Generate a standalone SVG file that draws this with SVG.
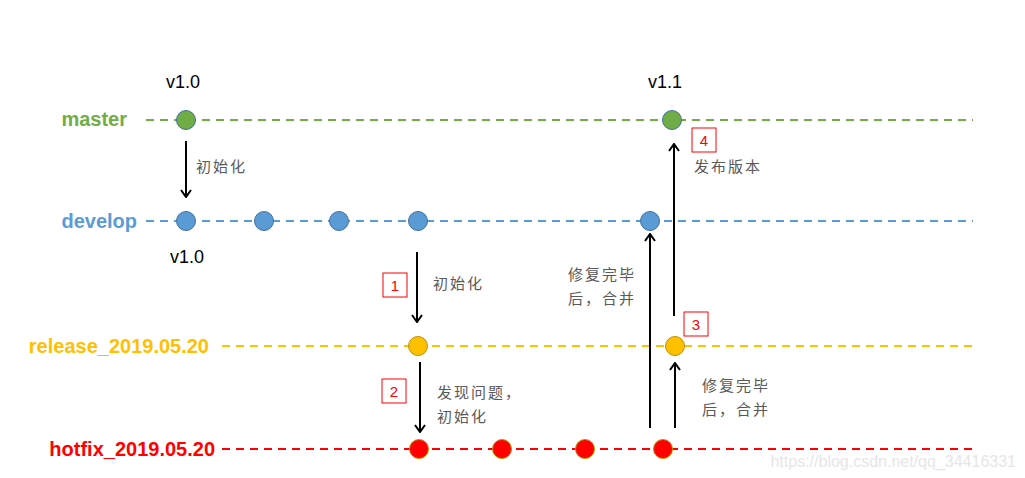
<svg xmlns="http://www.w3.org/2000/svg" width="1025" height="478" viewBox="0 0 1025 478">
<defs>
<marker id="ah" viewBox="0 0 12 12" refX="11" refY="6" markerWidth="12" markerHeight="12" markerUnits="userSpaceOnUse" orient="auto">
<path d="M4,1 L11,6 L4,11" fill="none" stroke="#000" stroke-width="2"/>
</marker>
</defs>
<style>
.lbl{font-family:"Liberation Sans",Arial,sans-serif;font-weight:bold;font-size:20px;text-anchor:end}
.ver{font-family:"Liberation Sans",Arial,sans-serif;font-size:18px;fill:#000}
.cn{font-family:"Noto Sans CJK SC","Noto Sans",sans-serif;font-size:15px;fill:#595959;letter-spacing:2px}
.ln{fill:none;stroke-width:2;stroke-dasharray:8,6}
.arr{stroke:#000;stroke-width:2;fill:none}
.box rect{fill:#fff;stroke:#f00;stroke-width:1}
.box text{font-family:"Liberation Sans",Arial,sans-serif;font-size:15px;fill:#f00;text-anchor:middle}
.g{fill:#70AD47;stroke:#41719C;stroke-width:1}
.b{fill:#5B9BD5;stroke:#41719C;stroke-width:1}
.y{fill:#FFC000;stroke:#BF9000;stroke-width:1}
.r{fill:#FF0000;stroke:#BF9000;stroke-width:1}
</style>
<rect width="1025" height="478" fill="#fff"/>
<g id="branches">
<line class="ln" x1="146" y1="120" x2="973" y2="120" stroke="#70AD47"/>
<line class="ln" x1="146" y1="221" x2="973" y2="221" stroke="#5B9BD5"/>
<line class="ln" x1="222" y1="346" x2="973" y2="346" stroke="#FFC000"/>
<line class="ln" x1="222" y1="449" x2="973" y2="449" stroke="#FF0000"/>
<text class="lbl" x="127" y="126" fill="#70AD47">master</text>
<text class="lbl" x="137" y="228" fill="#5B9BD5">develop</text>
<text class="lbl" x="209" y="353" fill="#FFC000">release_2019.05.20</text>
<text class="lbl" x="215" y="456" fill="#FF0000">hotfix_2019.05.20</text>
</g>
<g id="connectors">
<line class="arr" x1="186" y1="141" x2="186" y2="197" marker-end="url(#ah)"/>
<line class="arr" x1="417" y1="252" x2="417" y2="322" marker-end="url(#ah)"/>
<line class="arr" x1="420" y1="362" x2="420" y2="432" marker-end="url(#ah)"/>
<line class="arr" x1="650" y1="428" x2="650" y2="234" marker-end="url(#ah)"/>
<line class="arr" x1="675" y1="428" x2="675" y2="363" marker-end="url(#ah)"/>
<line class="arr" x1="674" y1="316" x2="674" y2="144" marker-end="url(#ah)"/>
</g>
<g id="nodes-master">
<circle class="g" cx="186" cy="120" r="9.5"/>
<circle class="g" cx="672" cy="120" r="9.5"/>
</g>
<g id="nodes-develop">
<circle class="b" cx="186" cy="221" r="9.5"/>
<circle class="b" cx="264" cy="221" r="9.5"/>
<circle class="b" cx="339" cy="221" r="9.5"/>
<circle class="b" cx="418" cy="221" r="9.5"/>
<circle class="b" cx="650" cy="221" r="9.5"/>
</g>
<g id="nodes-release">
<circle class="y" cx="418" cy="346" r="9.5"/>
<circle class="y" cx="675" cy="346" r="9.5"/>
</g>
<g id="nodes-hotfix">
<circle class="r" cx="419" cy="449" r="9.5"/>
<circle class="r" cx="502" cy="449" r="9.5"/>
<circle class="r" cx="585" cy="449" r="9.5"/>
<circle class="r" cx="663" cy="449" r="9.5"/>
</g>
<g id="versions">
<text class="ver" x="166" y="88">v1.0</text>
<text class="ver" x="170" y="263">v1.0</text>
<text class="ver" x="648" y="88">v1.1</text>
</g>
<g id="labels">
<text class="cn" x="196" y="172">初始化</text>
<text class="cn" x="433" y="289">初始化</text>
<text class="cn" x="437" y="398">发现问题，</text>
<text class="cn" x="437" y="422">初始化</text>
<text class="cn" x="568" y="280">修复完毕</text>
<text class="cn" x="568" y="304">后，合并</text>
<text class="cn" x="702" y="391">修复完毕</text>
<text class="cn" x="702" y="415">后，合并</text>
<text class="cn" x="694" y="172">发布版本</text>
</g>
<g id="steps">
<g class="box"><rect x="383" y="273" width="24" height="24"/><text x="395" y="291">1</text></g>
<g class="box"><rect x="382" y="379" width="24" height="24"/><text x="394" y="397">2</text></g>
<g class="box"><rect x="684" y="312" width="24" height="24"/><text x="696" y="330">3</text></g>
<g class="box"><rect x="692" y="128" width="24" height="24"/><text x="704" y="146">4</text></g>
</g>
<text x="1016" y="467" text-anchor="end" font-family="Liberation Sans,Arial,sans-serif" font-size="16" fill="#e6e6e6">https://blog.csdn.net/qq_34416331</text>
</svg>
